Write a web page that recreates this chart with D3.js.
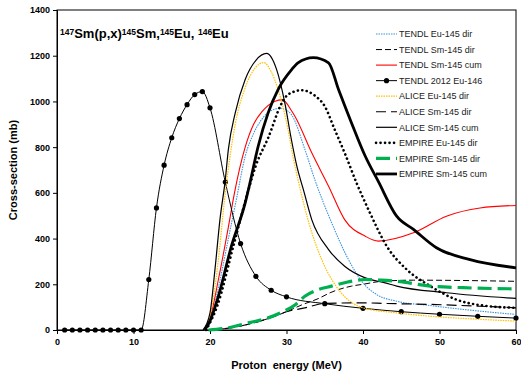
<!DOCTYPE html>
<html>
<head>
<meta charset="utf-8">
<script src="https://cdn.jsdelivr.net/npm/d3@7"></script>
<style>
  body { margin: 0; background: #fff; }
  svg { display: block; font-family: "Liberation Sans", Arial, sans-serif; }
</style>
</head>
<body>
<div id="chart"></div>
<script>
// values: [proton energy (MeV), cross-section (mb)]
const tendlEu145Dir = [[19.3,0],[20,30],[21,170],[22.4,400],[23.5,580],[24.6,760],[25.7,860],[26.75,921],[28,960],[29.2,970],[30,962],[30.7,940],[32.4,790],[33.7,658],[35.9,469],[38.1,308],[40,206],[41.8,155],[44.4,126],[48.8,107],[53.1,90],[60,68]];
const tendlSm145Dir = [[20,0],[22.4,8],[25,25],[27.6,50],[30,80],[32,110],[34.2,138],[35.7,163],[38.5,192],[40,200],[42.4,213],[46.6,218],[60,213]];
const tendlSm145Cum = [[19.3,0],[20,50],[21.1,221],[22.4,450],[23.2,600],[24.6,800],[25.7,900],[26.8,955],[28.5,1001],[29.45,1008],[30.7,957],[31.1,935],[33.3,775],[35.5,629],[37.6,483],[40.3,410],[42,389],[46.6,425],[50.9,498],[55.3,534],[60,545]];
const tendl2012Eu146 = [[1,0],[2,0],[3,0],[4,0],[5,0],[6,0],[7,0],[8,0],[9,0],[10,0],[11,0],[12,221],[13,534],[14,721],[15,841],[16,925],[17,986],[18,1030],[19,1043],[20,972],[22,647],[24,378],[26,235],[28,174],[30,145],[35,115],[40,95],[45,80],[50,69],[55,60],[60,52]];
const aliceEu145Dir = [[19.2,0],[20,60],[21,280],[22,600],[23.3,900],[24.6,1060],[26,1150],[27,1170],[28,1130],[28.9,1052],[30.2,877],[30.9,750],[31.5,658],[32.8,483],[34.6,308],[36.8,177],[39.4,104],[40,97],[44.4,75],[48.8,60],[54,49],[60,39]];
const aliceSm145Dir = [[20,0],[22.4,8],[25,25],[27.6,50],[30,80],[32.4,97],[35,116],[39.8,119],[43,116],[48.8,112],[55.3,104],[60,97]];
const aliceSm145Cum = [[19.1,0],[20,75],[20.65,265],[21.3,483],[22,658],[22.4,790],[23.3,950],[24.6,1096],[26,1180],[27.4,1210],[28.7,1140],[29.8,990],[30.6,840],[31.4,710],[32.2,615],[33.3,483],[35.5,352],[37.6,279],[40.3,228],[42.9,206],[44.4,192],[50.9,163],[60,138]];
const empireEu145Dir = [[19.5,0],[21,110],[23,360],[25,610],[26,720],[27.6,840],[29.4,994],[30.2,1030],[32,1049],[33.8,1023],[35,979],[36.3,877],[37.6,775],[39.2,640],[40.9,513],[43.1,367],[45.7,265],[48.8,192],[52.2,133],[55.7,107],[60,97]];
const empireSm145Dir = [[19.8,0],[22.4,10],[25,31],[27.6,53],[29.4,78],[31.2,112],[32.4,148],[34,175],[35.9,192],[38,210],[40.3,221],[42.4,218],[44.4,213],[48.8,192],[53.1,185],[60,180]];
const empireSm145Cum = [[19.3,0],[20,40],[21.1,148],[22.8,367],[24.6,556],[25.2,640],[26.3,804],[27.6,950],[28.9,1052],[30.7,1140],[31.5,1169],[33.5,1192],[35.5,1169],[36.8,1052],[38.5,906],[40.3,760],[42,650],[44.4,498],[46.6,440],[49.6,360],[54,308],[60,272]];

const xTicks = [0, 10, 20, 30, 40, 50, 60];
const yTicks = [0, 200, 400, 600, 800, 1000, 1200, 1400];
const seriesNames = ["TENDL Eu-145 dir", "TENDL Sm-145 dir", "TENDL Sm-145 cum", "TENDL 2012 Eu-146",
  "ALICE Eu-145 dir", "ALICE Sm-145 dir", "ALICE Sm-145 cum",
  "EMPIRE Eu-145 dir", "EMPIRE Sm-145 dir", "EMPIRE Sm-145 cum"];
const seriesData = [tendlEu145Dir, tendlSm145Dir, tendlSm145Cum, tendl2012Eu146,
  aliceEu145Dir, aliceSm145Dir, aliceSm145Cum,
  empireEu145Dir, empireSm145Dir, empireSm145Cum];

// line styles, in the same order as the names
const styles = [
  {color: "#3a95dd", width: 1.1, dash: "1.5 1"},
  {color: "#000", width: 1, dash: "6 3"},
  {color: "#ff0000", width: 1.1, dash: null},
  {color: "#000", width: 1, dash: null, dots: true},
  {color: "#ffc000", width: 1.2, dash: "1.5 1"},
  {color: "#000", width: 1.2, dash: "10 5"},
  {color: "#000", width: 1.2, dash: null},
  {color: "#000", width: 2.6, dash: "0.1 4.4", cap: "round"},
  {color: "#00b050", width: 3.2, dash: "14 6"},
  {color: "#000", width: 2.8, dash: null}
];

const W = 521, H = 376;
const margin = {left: 57, right: 5, top: 10, bottom: 46};

const svg = d3.select("#chart").append("svg")
  .attr("width", W)
  .attr("height", H);

const x = d3.scaleLinear().domain([0, 60]).range([margin.left, W - margin.right]);
const y = d3.scaleLinear().domain([0, 1400]).range([H - margin.bottom, margin.top]);

// frame
svg.append("rect")
  .attr("x", x(0)).attr("y", y(1400))
  .attr("width", x(60) - x(0)).attr("height", y(0) - y(1400))
  .attr("fill", "none").attr("stroke", "#000").attr("stroke-width", 1);

// axes
const xAxis = svg.append("g")
  .attr("transform", `translate(0,${y(0)})`)
  .call(d3.axisBottom(x).tickValues(xTicks).tickSize(4).tickFormat(d3.format("d")));
const yAxis = svg.append("g")
  .attr("transform", `translate(${x(0)},0)`)
  .call(d3.axisLeft(y).tickValues(yTicks).tickSize(4).tickFormat(d3.format("d")));

[xAxis, yAxis].forEach(g => {
  g.select(".domain").attr("stroke", "#000");
  g.selectAll("text").attr("font-size", 9).attr("font-weight", "bold")
    .attr("font-family", "Liberation Sans, Arial, sans-serif").attr("fill", "#000");
});
xAxis.selectAll("text").attr("dy", "0.9em");

svg.append("text")
  .attr("x", (x(0) + x(60)) / 2).attr("y", 369)
  .attr("text-anchor", "middle").attr("font-size", 11).attr("font-weight", "bold")
  .attr("xml:space", "preserve")
  .text("Proton  energy (MeV)");

svg.append("text")
  .attr("transform", `translate(17,${(y(0) + y(1400)) / 2}) rotate(-90)`)
  .attr("text-anchor", "middle").attr("font-size", 11).attr("font-weight", "bold")
  .text("Cross-section (mb)");

// title with superscripts
const title = svg.append("text")
  .attr("x", 60).attr("y", 38)
  .attr("font-size", 13).attr("font-weight", "bold");
const titleParts = [["147", true], ["Sm(p,x)", false], ["145", true], ["Sm,", false], ["145", true], ["Eu, ", false], ["146", true], ["Eu", false]];
titleParts.forEach(p => {
  title.append("tspan")
    .attr("font-size", p[1] ? 8.5 : 13)
    .attr("baseline-shift", p[1] ? "38%" : null)
    .attr("xml:space", "preserve")
    .text(p[0]);
});

const plot = svg.append("g");
const line = d3.line()
  .x(d => x(d[0]))
  .y(d => y(d[1]))
  .curve(d3.curveMonotoneX);

seriesData.forEach((data, i) => {
  const s = styles[i];
  plot.append("path")
    .datum(data)
    .attr("d", line)
    .attr("fill", "none")
    .attr("stroke", s.color)
    .attr("stroke-width", s.width)
    .attr("stroke-dasharray", s.dash)
    .attr("stroke-linecap", s.cap || "butt");
  if (s.dots) {
    plot.selectAll(null)
      .data(data)
      .enter().append("circle")
      .attr("cx", d => x(d[0]))
      .attr("cy", d => y(d[1]))
      .attr("r", 2.6)
      .attr("fill", "#000");
  }
});

// legend
const legend = svg.append("g").attr("transform", "translate(376,34)");
seriesNames.forEach((name, i) => {
  const s = styles[i];
  const row = legend.append("g").attr("transform", `translate(0,${i * 15.55})`);
  row.append("line")
    .attr("x1", 0).attr("x2", 21).attr("y1", 0).attr("y2", 0)
    .attr("stroke", s.color)
    .attr("stroke-width", s.width)
    .attr("stroke-dasharray", s.dash)
    .attr("stroke-linecap", s.cap || "butt");
  if (s.dots) {
    row.append("circle").attr("cx", 10.5).attr("cy", 0).attr("r", 2.6).attr("fill", "#000");
  }
  row.append("text")
    .attr("x", 23).attr("y", 3.2)
    .attr("font-size", 9)
    .attr("fill", "#222")
    .text(name);
});
</script>
</body>
</html>
